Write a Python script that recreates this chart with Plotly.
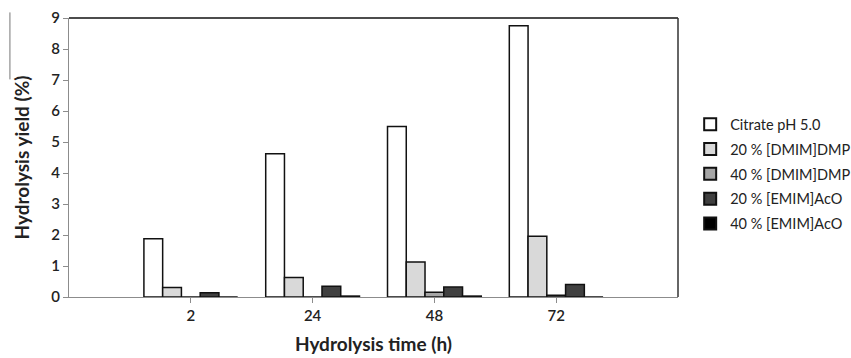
import plotly.graph_objects as go

times = ["2", "24", "48", "72"]
xpos = [1, 2, 3, 4]
series_names = ["Citrate pH 5.0", "20 % [DMIM]DMP", "40 % [DMIM]DMP", "20 % [EMIM]AcO", "40 % [EMIM]AcO"]
citrate = [1.88, 4.62, 5.50, 8.75]
dmim20 = [0.31, 0.63, 1.13, 1.96]
dmim40 = [0.0, 0.0, 0.15, 0.06]
emim20 = [0.14, 0.35, 0.32, 0.40]
emim40 = [0.0, 0.03, 0.03, 0.0]
yticks = [0, 1, 2, 3, 4, 5, 6, 7, 8, 9]

colors = ["#ffffff", "#d9d9d9", "#a6a6a6", "#404040", "#000000"]
values = [citrate, dmim20, dmim40, emim20, emim40]

fig = go.Figure()
for i, (name, vals, col) in enumerate(zip(series_names, values, colors)):
    fig.add_trace(go.Bar(
        x=xpos, y=vals, name=name, legendgroup=f"g{i}",
        marker=dict(color=col, line=dict(color="#111111", width=1.5)),
    ))

font_family = "Lato, Open Sans, sans-serif"
fig.update_layout(
    width=851, height=358,
    margin=dict(l=69, r=173, t=18, b=61, autoexpand=False),
    paper_bgcolor="white", plot_bgcolor="white",
    barmode="group", bargap=0.23, bargroupgap=0,
    font=dict(family=font_family, color="#222222"),
    showlegend=True,
    legend=dict(
        x=1.02, y=0.44, xanchor="left", yanchor="middle",
        font=dict(size=14.5, color="#222222", family=font_family),
        tracegroupgap=3, itemsizing="constant",
        bgcolor="rgba(0,0,0,0)",
    ),
    xaxis=dict(
        range=[0, 5], tickmode="array", tickvals=xpos, ticktext=times,
        showline=True, linecolor="#8c8c8c", linewidth=1.2,
        ticks="outside", ticklen=5, tickcolor="#8c8c8c",
        showgrid=False, zeroline=False, automargin=False,
        tickfont=dict(size=15, color="#222222", family=font_family, weight=600),
        title=dict(text="<b>Hydrolysis time (h)</b>", standoff=14,
                   font=dict(size=19, color="#222222", family=font_family)),
    ),
    yaxis=dict(
        range=[0, 9], tickmode="array", tickvals=yticks,
        showline=True, linecolor="#8c8c8c", linewidth=1.2,
        ticks="outside", ticklen=5, tickcolor="#8c8c8c",
        showgrid=False, zeroline=False, automargin=False,
        tickfont=dict(size=15, color="#222222", family=font_family, weight=600),
        title=dict(text="<b>Hydrolysis yield (%)</b>", standoff=16,
                   font=dict(size=19, color="#222222", family=font_family)),
    ),
)

# frame lines (top and right)
fig.add_shape(type="line", xref="paper", yref="paper", x0=0, x1=1, y0=1, y1=1,
              line=dict(color="#111111", width=1.5))
fig.add_shape(type="line", xref="paper", yref="paper", x0=1, x1=1, y0=0, y1=1,
              line=dict(color="#333333", width=1.5))
# thin stray line in the original's title area
fig.add_shape(type="line", xref="paper", yref="paper", x0=-0.097, x1=-0.097, y0=1.02, y1=0.78,
              line=dict(color="#777777", width=1))

fig.write_html("out.html")
